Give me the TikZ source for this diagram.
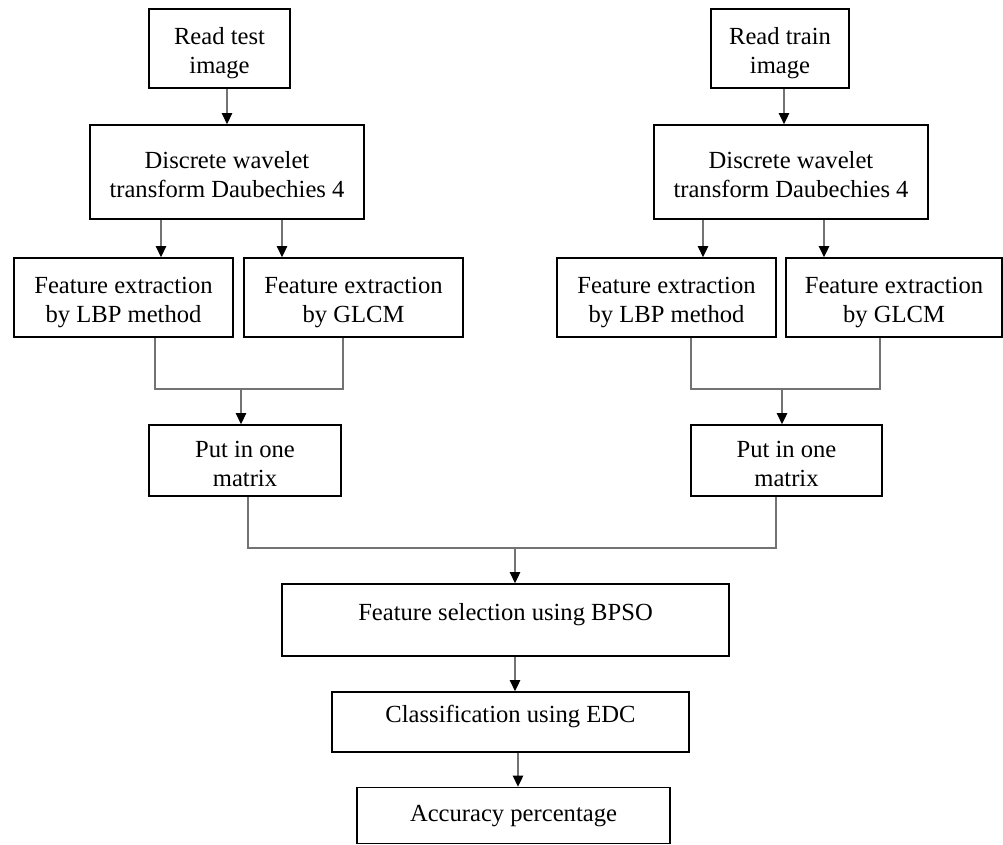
\documentclass[tikz,border=0pt]{standalone}
\usepackage{fontspec}
\setmainfont{Liberation Serif}
\usetikzlibrary{arrows.meta}
\begin{document}
\begin{tikzpicture}[x=1pt, y=-1pt]
	\tikzset{
		stepbox/.style={draw, line width=1.8pt, inner sep=0pt},
		steptext/.style={align=center, inner sep=0pt, font=\fontsize{24.6}{29}\selectfont},
		flowline/.style={line width=1.3pt, draw=black!55},
		flowarrow/.style={flowline, -{Triangle[length=11pt, width=10.5pt, color=black]}},
	}
	\newcommand{\flowBox}[7]{
		% args:
		%     name, center x, center y, width, height, text,
		%     how far the text sits below the middle of the box
		\node[stepbox, minimum width=#4pt, minimum height=#5pt] (#1) at (#2, #3) {};
		\node[steptext] (#1-text) at ([yshift=-#7pt]#1.center) {#6};
	}
	\newcommand{\lowText}[1]{\raisebox{0pt}[0pt][0pt]{#1}}
	\useasboundingbox (0,0) rectangle (1003,845);
	%
	% test image branch
	\flowBox{readtest}{219.5}{48.5}{141}{79}{Read test\\image}{4.5}
	\flowBox{dwtL}{227}{172}{274}{94}{Discrete wavelet\\transform Daubechies 4}{2.5}
	\flowBox{lbpL}{123.5}{297.5}{219}{79}{Feature extraction\\by LBP method}{5.5}
	\flowBox{glcmL}{353.5}{297.5}{219}{79}{Feature extraction\\by GLCM}{5.5}
	\flowBox{matL}{245}{460.5}{192}{71}{Put in one\\matrix}{3}
	% train image branch
	\flowBox{readtrain}{780}{48.5}{138}{79}{Read train\\image}{4.5}
	\flowBox{dwtR}{791}{172}{274}{94}{Discrete wavelet\\transform Daubechies 4}{2.5}
	\flowBox{lbpR}{666.5}{297.5}{219}{79}{Feature extraction\\by LBP method}{5.5}
	\flowBox{glcmR}{894}{297.5}{216}{79}{Feature extraction\\by GLCM}{5.5}
	\flowBox{matR}{786.5}{460.5}{191}{71}{Put in one\\matrix}{3}
	% common part
	\flowBox{bpso}{505.5}{620}{447}{72}{\lowText{Feature selection using BPSO}}{0}
	\flowBox{edc}{510.5}{722}{357}{60}{\lowText{Classification using EDC}}{0}
	\flowBox{acc}{513.5}{815.5}{313}{56}{\lowText{Accuracy percentage}}{6}
	%
	% junctions
	\coordinate (joinL) at (241, 389);
	\coordinate (joinR) at (782, 389);
	\coordinate (joinB) at (515, 548);
	%
	% test branch arrows
	\draw[flowarrow] (readtest.south -| dwtL.north) -- (dwtL.north);
	\draw[flowarrow] ([xshift=-66pt]dwtL.south) -- ([xshift=-66pt]dwtL.south |- lbpL.north);
	\draw[flowarrow] ([xshift=55pt]dwtL.south) -- ([xshift=55pt]dwtL.south |- glcmL.north);
	\draw[flowline] ([xshift=31.5pt]lbpL.south) |- (joinL) -| ([xshift=-10.5pt]glcmL.south);
	\draw[flowarrow] (joinL) -- (joinL |- matL.north);
	% train branch arrows
	\draw[flowarrow] ([xshift=4pt]readtrain.south) -- ([xshift=4pt]readtrain.south |- dwtR.north);
	\draw[flowarrow] ([xshift=-88pt]dwtR.south) -- ([xshift=-88pt]dwtR.south |- lbpR.north);
	\draw[flowarrow] ([xshift=33pt]dwtR.south) -- ([xshift=33pt]dwtR.south |- glcmR.north);
	\draw[flowline] ([xshift=24.5pt]lbpR.south) |- (joinR) -| ([xshift=-14pt]glcmR.south);
	\draw[flowarrow] (joinR) -- (joinR |- matR.north);
	% both matrices into selection, then classification
	\draw[flowline] ([xshift=3pt]matL.south) |- (joinB) -| ([xshift=-10.5pt]matR.south);
	\draw[flowarrow] (joinB) -- (joinB |- bpso.north);
	\draw[flowarrow] (bpso.south -| joinB) -- (joinB |- edc.north);
	\draw[flowarrow] ([xshift=3pt]edc.south -| joinB) -- ([xshift=3pt]joinB |- acc.north);
\end{tikzpicture}
\end{document}
